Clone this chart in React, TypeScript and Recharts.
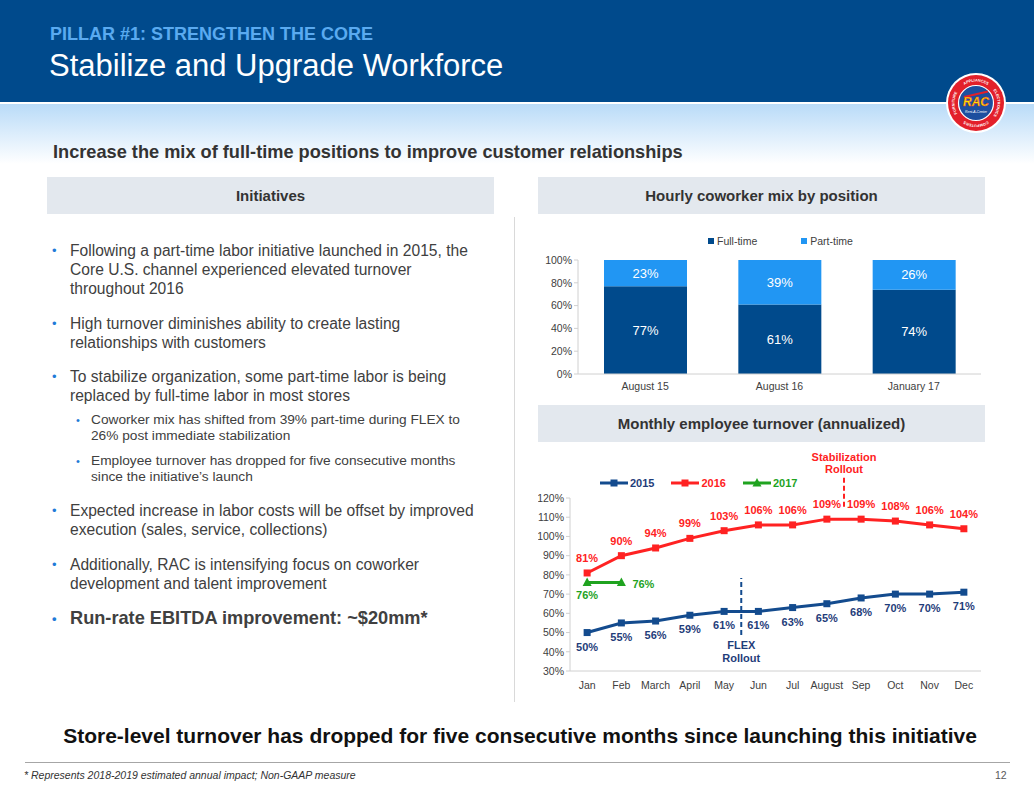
import React from 'react';
import {
  BarChart, Bar, LineChart, Line, XAxis, YAxis, Legend, LabelList, ReferenceLine,
} from 'recharts';

const FONT = '"Liberation Sans", Arial, Helvetica, sans-serif';
const NAVY = '#004A8C';
const TEXT = '#404040';

// hourly coworker mix
const mixPeriods = ['August 15', 'August 16', 'January 17'];
const fullTime = [77, 61, 74];
const partTime = [23, 39, 26];
const mixTicks = [0, 20, 40, 60, 80, 100];

// monthly turnover
const months = ['Jan', 'Feb', 'March', 'April', 'May', 'Jun', 'Jul', 'August', 'Sep', 'Oct', 'Nov', 'Dec'];
const turnover2015 = [50, 55, 56, 59, 61, 61, 63, 65, 68, 70, 70, 71];
const turnover2016 = [81, 90, 94, 99, 103, 106, 106, 109, 109, 108, 106, 104];
const turnover2017 = [76, 76];
const turnoverTicks = [30, 40, 50, 60, 70, 80, 90, 100, 110, 120];

const C2015 = '#134B8E';
const C2015_TXT = '#1F3D7A';
const C2016 = '#FF2222';
const C2017 = '#1FA31F';

const mixData = mixPeriods.map((p, i) => ({ period: p, full: fullTime[i], part: partTime[i] }));
const turnoverData = months.map((m, i) => ({
  i,
  month: m,
  y2015: turnover2015[i],
  y2016: turnover2016[i],
  y2017: turnover2017[i],
}));

const pct = (v: number) => `${v}%`;

function SquareDot(props: any) {
  const { cx, cy, fill } = props;
  if (cx == null || cy == null) return null;
  return <rect x={cx - 3.5} y={cy - 3.5} width={7} height={7} fill={fill} />;
}

function TriangleDot(props: any) {
  const { cx, cy, fill } = props;
  if (cx == null || cy == null) return null;
  return <polygon points={`${cx},${cy - 5} ${cx + 4.5},${cy + 3.5} ${cx - 4.5},${cy + 3.5}`} fill={fill} />;
}

const labelStyle = { fontFamily: FONT, fontSize: 11, fontWeight: 700 };

function label2015(p: any) {
  return (
    <text x={p.x} y={p.y + 18} textAnchor="middle" fill={C2015_TXT} style={labelStyle}>
      {pct(p.value)}
    </text>
  );
}
function label2016(p: any) {
  return (
    <text x={p.x} y={p.y - 11} textAnchor="middle" fill={C2016} style={labelStyle}>
      {pct(p.value)}
    </text>
  );
}
function label2017(p: any) {
  if (p.value == null) return null;
  if (p.index === 0) {
    return (
      <text x={p.x} y={p.y + 16} textAnchor="middle" fill={C2017} style={labelStyle}>
        {pct(p.value)}
      </text>
    );
  }
  return (
    <text x={p.x + 11} y={p.y + 5} textAnchor="start" fill={C2017} style={labelStyle}>
      {pct(p.value)}
    </text>
  );
}

function FlexLabel(props: any) {
  const vb = props.viewBox || {};
  const x = vb.x;
  const y = vb.y + vb.height;
  return (
    <text textAnchor="middle" fill={C2015_TXT} style={labelStyle}>
      <tspan x={x} y={y + 14}>FLEX</tspan>
      <tspan x={x} y={y + 27}>Rollout</tspan>
    </text>
  );
}

function StabLabel(props: any) {
  const vb = props.viewBox || {};
  const x = vb.x;
  const y = vb.y;
  return (
    <text textAnchor="middle" fill={C2016} style={labelStyle}>
      <tspan x={x} y={y - 14}>Stabilization</tspan>
      <tspan x={x} y={y - 2}>Rollout</tspan>
    </text>
  );
}

function TurnoverLegend() {
  const items = [
    { name: '2015', color: C2015, txt: C2015_TXT, shape: 'square' },
    { name: '2016', color: C2016, txt: C2016, shape: 'square' },
    { name: '2017', color: C2017, txt: C2017, shape: 'tri' },
  ];
  return (
    <div style={{ display: 'flex', gap: 17, fontFamily: FONT, fontSize: 11, fontWeight: 700 }}>
      {items.map((it) => (
        <div key={it.name} style={{ display: 'flex', alignItems: 'center', height: 14 }}>
          <svg width={28} height={12} style={{ marginRight: 2 }}>
            <line x1={0} y1={6} x2={28} y2={6} stroke={it.color} strokeWidth={3} />
            {it.shape === 'square' ? (
              <rect x={10.5} y={2.5} width={7} height={7} fill={it.color} />
            ) : (
              <polygon points="14,1 18.5,9.5 9.5,9.5" fill={it.color} />
            )}
          </svg>
          <span style={{ color: it.txt }}>{it.name}</span>
        </div>
      ))}
    </div>
  );
}

function MixLegend() {
  const items = [
    { name: 'Full-time', color: NAVY },
    { name: 'Part-time', color: '#2196F3' },
  ];
  return (
    <div style={{ display: 'flex', gap: 44, fontFamily: FONT, fontSize: 10.5, color: TEXT }}>
      {items.map((it) => (
        <div key={it.name} style={{ display: 'flex', alignItems: 'center', height: 14 }}>
          <span style={{ width: 6, height: 6, background: it.color, marginRight: 3, display: 'inline-block' }} />
          {it.name}
        </div>
      ))}
    </div>
  );
}

function MixChart() {
  const tick = { fontFamily: FONT, fontSize: 10.5, fill: TEXT };
  return (
    <BarChart width={450} height={170} data={mixData} margin={{ top: 35, right: 7, left: 4, bottom: 3 }}>
      <XAxis dataKey="period" tick={tick} tickLine={false} axisLine={{ stroke: '#D0D0D0' }} height={18} tickMargin={3} />
      <YAxis
        domain={[0, 100]}
        ticks={mixTicks}
        tickFormatter={pct}
        tick={tick}
        width={36}
        tickSize={4}
        tickLine={{ stroke: '#D0D0D0' }}
        axisLine={{ stroke: '#D0D0D0' }}
        interval={0}
      />
      <Legend
        layout="horizontal"
        verticalAlign="middle"
        align="center"
        wrapperStyle={{ top: 9, left: 170, width: 'auto' }}
        content={() => <MixLegend />}
      />
      <Bar dataKey="full" stackId="a" fill={NAVY} barSize={83} isAnimationActive={false}>
        <LabelList dataKey="full" position="center" formatter={(v: any) => pct(v)} fill="#FFFFFF" style={{ fontFamily: FONT, fontSize: 13 }} />
      </Bar>
      <Bar dataKey="part" stackId="a" fill="#2196F3" barSize={83} isAnimationActive={false}>
        <LabelList dataKey="part" position="center" formatter={(v: any) => pct(v)} fill="#FFFFFF" style={{ fontFamily: FONT, fontSize: 13 }} />
      </Bar>
    </BarChart>
  );
}

function TurnoverChart() {
  const tick = { fontFamily: FONT, fontSize: 10.5, fill: TEXT };
  return (
    <LineChart width={450} height={250} data={turnoverData} margin={{ top: 50, right: 7, left: 4, bottom: 5 }}>
      <XAxis
        dataKey="i"
        type="number"
        domain={[-0.5, 11.5]}
        ticks={months.map((_, i) => i)}
        tickFormatter={(v: number) => months[v]}
        tick={tick}
        interval={0}
        tickLine={false}
        axisLine={{ stroke: '#D0D0D0' }}
        height={22}
        tickMargin={5}
      />
      <YAxis
        domain={[30, 120]}
        ticks={turnoverTicks}
        tickFormatter={pct}
        tick={tick}
        width={28}
        tickSize={4}
        tickLine={{ stroke: '#D0D0D0' }}
        axisLine={{ stroke: '#D0D0D0' }}
        interval={0}
      />
      <Legend
        layout="horizontal"
        verticalAlign="middle"
        align="center"
        wrapperStyle={{ top: 28, left: 62, width: 'auto' }}
        content={() => <TurnoverLegend />}
      />
      <ReferenceLine
        segment={[{ x: 4.5, y: 48.7 }, { x: 4.5, y: 78.4 }]}
        stroke={C2015}
        strokeWidth={2}
        strokeDasharray="5 3"
        ifOverflow="visible"
        label={<FlexLabel />}
      />
      <ReferenceLine
        segment={[{ x: 7.5, y: 115.4 }, { x: 7.5, y: 132 }]}
        stroke={C2016}
        strokeWidth={2}
        strokeDasharray="5 3"
        ifOverflow="visible"
        label={<StabLabel />}
      />
      <Line dataKey="y2015" stroke={C2015} strokeWidth={3} dot={<SquareDot fill={C2015} />} label={label2015} isAnimationActive={false} />
      <Line dataKey="y2016" stroke={C2016} strokeWidth={3} dot={<SquareDot fill={C2016} />} label={label2016} isAnimationActive={false} />
      <Line dataKey="y2017" stroke={C2017} strokeWidth={3} dot={<TriangleDot fill={C2017} />} label={label2017} isAnimationActive={false} connectNulls={false} />
    </LineChart>
  );
}

// arc helper for the badge words (clockwise around the centre)
function arc(cx: number, cy: number, r: number, mid: number, span: number) {
  const a0 = ((mid - span / 2) * Math.PI) / 180;
  const a1 = ((mid + span / 2) * Math.PI) / 180;
  const x0 = cx + r * Math.cos(a0);
  const y0 = cy + r * Math.sin(a0);
  const x1 = cx + r * Math.cos(a1);
  const y1 = cy + r * Math.sin(a1);
  return `M${x0},${y0} A${r},${r} 0 0,1 ${x1},${y1}`;
}

const ringWords = [
  { id: 'rw0', word: 'FURNITURE', mid: 180 },
  { id: 'rw1', word: 'APPLIANCES', mid: 270 },
  { id: 'rw2', word: 'ELECTRONICS', mid: 0 },
  { id: 'rw3', word: 'COMPUTERS', mid: 90 },
];

function Logo() {
  return (
    <svg width={62} height={62} viewBox="0 0 62 62" style={{ position: 'absolute', left: 945, top: 72 }}>
      <defs>
        {ringWords.map((w) => (
          <path key={w.id} id={w.id} d={arc(31, 31, 21.5, w.mid, 84)} />
        ))}
      </defs>
      <circle cx={31} cy={31} r={30} fill="#FFFFFF" />
      <circle cx={31} cy={31} r={28} fill="#E3202A" />
      {ringWords.map((w) => (
        <text key={w.id} style={{ fontFamily: FONT, fontSize: 3.8, fontWeight: 700 }} fill="#FFFFFF" textAnchor="middle">
          <textPath href={`#${w.id}`} startOffset="50%">{w.word}</textPath>
        </text>
      ))}
      <circle cx={31} cy={31} r={17.5} fill="#1D4F9F" stroke="#FFFFFF" strokeWidth={1.2} />
      <line x1={19} y1={25} x2={43} y2={19.5} stroke="#E3202A" strokeWidth={2} />
      <text x={31} y={34} textAnchor="middle" fill="#FFE500" stroke="#E3202A" strokeWidth={0.4} style={{ fontFamily: FONT, fontSize: 12, fontWeight: 700, fontStyle: 'italic' }}>RAC</text>
      <text x={31} y={41} textAnchor="middle" fill="#FFFFFF" style={{ fontFamily: FONT, fontSize: 3.4, fontStyle: 'italic' }}>Rent-A-Center</text>
    </svg>
  );
}

const abs = (left: number, top: number, extra: React.CSSProperties = {}): React.CSSProperties => ({
  position: 'absolute', left, top, whiteSpace: 'nowrap', ...extra,
});

function Bullet({ top, lines, sub, bold }: { top: number; lines: string[]; sub?: boolean; bold?: boolean }) {
  const size = sub ? 13.7 : bold ? 18.2 : 15.6;
  const lh = sub ? 16.5 : 19;
  return (
    <div style={abs(sub ? 76 : 52, top - lh / 2, { display: 'flex', fontFamily: FONT, fontSize: size, lineHeight: `${lh}px`, color: TEXT, fontWeight: bold ? 700 : 400 })}>
      <span style={{ color: '#1F7BD8', width: sub ? 15 : 18, fontSize: sub ? 11 : 13 }}>•</span>
      <span>
        {lines.map((l, k) => (
          <div key={k}>{l}</div>
        ))}
      </span>
    </div>
  );
}

function SectionBox({ left, top, text }: { left: number; top: number; text: string }) {
  return (
    <div style={abs(left, top, { width: 447, height: 37, background: '#E3E8EE', display: 'flex', alignItems: 'center', justifyContent: 'center', fontFamily: FONT, fontSize: 15, fontWeight: 700, color: '#333333' })}>
      {text}
    </div>
  );
}

export default function App() {
  return (
    <div style={{ position: 'absolute', left: 0, top: 0, width: 1034, height: 799, background: '#FFFFFF', overflow: 'hidden', fontFamily: FONT }}>
      <div style={abs(0, 0, { width: 1034, height: 102, background: NAVY })} />
      <div style={abs(0, 104, { width: 1034, height: 60, background: 'linear-gradient(#B9DBF8, #FFFFFF)' })} />
      <div style={abs(50, 24, { fontSize: 18, fontWeight: 700, color: '#5AAAF0' })}>PILLAR #1: STRENGTHEN THE CORE</div>
      <div style={abs(49, 48, { fontSize: 31, color: '#FFFFFF' })}>Stabilize and Upgrade Workforce</div>
      <Logo />

      <div style={abs(53, 142, { fontSize: 18.2, fontWeight: 700, color: '#333333' })}>
        Increase the mix of full-time positions to improve customer relationships
      </div>

      <SectionBox left={47} top={177} text="Initiatives" />
      <SectionBox left={538} top={177} text="Hourly coworker mix by position" />
      <SectionBox left={538} top={405} text="Monthly employee turnover (annualized)" />

      <div style={abs(514, 217, { width: 1, height: 485, background: '#D9D9D9' })} />

      <Bullet top={250} lines={['Following a part-time labor initiative launched in 2015, the', 'Core U.S. channel experienced elevated turnover', 'throughout 2016']} />
      <Bullet top={323} lines={['High turnover diminishes ability to create lasting', 'relationships with customers']} />
      <Bullet top={376} lines={['To stabilize organization, some part-time labor is being', 'replaced by full-time labor in most stores']} />
      <Bullet sub top={420} lines={['Coworker mix has shifted from 39% part-time during FLEX to', '26% post immediate stabilization']} />
      <Bullet sub top={461} lines={['Employee turnover has dropped for five consecutive months', 'since the initiative\u2019s launch']} />
      <Bullet top={510} lines={['Expected increase in labor costs will be offset by improved', 'execution (sales, service, collections)']} />
      <Bullet top={564} lines={['Additionally, RAC is intensifying focus on coworker', 'development and talent improvement']} />
      <Bullet bold top={618} lines={['Run-rate EBITDA improvement: ~$20mm*']} />

      <div style={abs(538, 225)}>
        <MixChart />
      </div>
      <div style={abs(538, 448)}>
        <TurnoverChart />
      </div>

      <div style={abs(0, 724, { width: 1040, textAlign: 'center', fontSize: 21, fontWeight: 700, color: '#111111' })}>
        Store-level turnover has dropped for five consecutive months since launching this initiative
      </div>
      <div style={abs(25, 762, { width: 985, height: 1, background: '#A6A6A6' })} />
      <div style={abs(24, 769, { fontSize: 10.5, fontStyle: 'italic', color: '#333333' })}>
        * Represents 2018-2019 estimated annual impact; Non-GAAP measure
      </div>
      <div style={abs(995, 769, { fontSize: 10.5, color: '#595959' })}>12</div>
    </div>
  );
}
